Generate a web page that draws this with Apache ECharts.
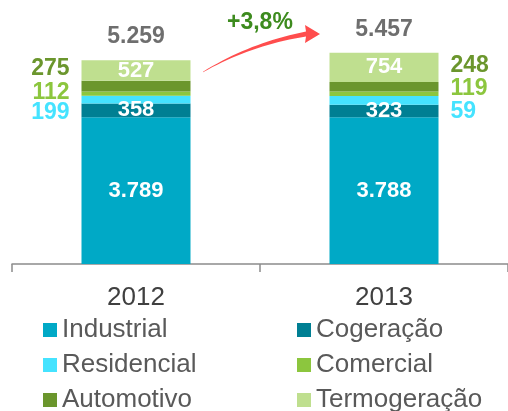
<!DOCTYPE html>
<html>
<head>
<meta charset="utf-8">
<script src="https://cdn.jsdelivr.net/npm/echarts@6/dist/echarts.min.js"></script>
<style>
  html, body { margin: 0; padding: 0; background: #fff; }
  #chart { width: 508px; height: 411px; }
</style>
</head>
<body>
<div id="chart"></div>
<script>
// anos
var anos = ['2012', '2013'];
// segmentos (de baixo para cima)
var industrial = [3789, 3788];
var cogeracao = [358, 323];
var residencial = [199, 225];        // altura desenhada
var residencialRotulos = ['199', '59']; // texto mostrado
var comercial = [112, 119];
var automotivo = [275, 248];
var termogeracao = [527, 754];
var totais = [5259, 5457];
// ordem da legenda (linha a linha, duas colunas)
var legendaOrdem = ['Industrial', 'Cogeração', 'Residencial', 'Comercial', 'Automotivo', 'Termogeração'];

var FONT = 'Liberation Sans, Arial, sans-serif';

function fmt(v) {
    return String(v).replace(/\B(?=(\d{3})+(?!\d))/g, '.');
}

var cores = {
    Industrial: '#00a9c6',
    'Cogeração': '#007f93',
    Residencial: '#45e3ff',
    Comercial: '#8cc63e',
    Automotivo: '#6b962d',
    'Termogeração': '#bfdf8f'
};

function serieDentro(nome, valores) {
    return {
        name: nome, type: 'bar', stack: 'total', barWidth: 109,
        itemStyle: { color: cores[nome] },
        data: valores,
        label: {
            show: true, position: 'inside', color: '#fff',
            fontFamily: FONT, fontWeight: 'bold', fontSize: 22,
            formatter: function (p) { return fmt(p.value); }
        }
    };
}

function serieFora(nome, valores, deslocY, textos) {
    return {
        name: nome, type: 'bar', stack: 'total', barWidth: 109,
        itemStyle: { color: cores[nome] },
        data: valores.map(function (v, i) {
            return {
                value: v,
                label: { position: i === 0 ? 'left' : 'right', offset: [0, deslocY[i]] }
            };
        }),
        label: {
            show: true, color: cores[nome], distance: 12,
            fontFamily: FONT, fontWeight: 'bold', fontSize: 23,
            formatter: function (p) { return textos ? textos[p.dataIndex] : fmt(p.value); }
        }
    };
}

var variacao = ((totais[1] / totais[0] - 1) * 100).toFixed(1).replace('.', ',');

// seta curva afinando na cauda
function seta() {
    var p0 = [203, 72], c = [250, 44], p1 = [306, 34];
    var cima = [], baixo = [];
    for (var i = 0; i <= 20; i++) {
        var t = i / 20;
        var x = (1 - t) * (1 - t) * p0[0] + 2 * t * (1 - t) * c[0] + t * t * p1[0];
        var y = (1 - t) * (1 - t) * p0[1] + 2 * t * (1 - t) * c[1] + t * t * p1[1];
        var w = 0.3 + 2.2 * t;
        cima.push([x, y - w]);
        baixo.unshift([x, y + w]);
    }
    return cima.concat([[305, 25], [320, 34], [305, 43]]).concat(baixo);
}

var chart = echarts.init(document.getElementById('chart'));
chart.setOption({
    animation: false,
    backgroundColor: '#fff',
    grid: { left: 12, right: -4, top: 31.7, bottom: 147 },
    xAxis: {
        type: 'category',
        data: anos,
        axisLine: { lineStyle: { color: '#8c8c8c', width: 1.5 } },
        axisTick: { show: true, length: 8, lineStyle: { color: '#8c8c8c', width: 1.5 } },
        axisLabel: { color: '#404040', fontFamily: FONT, fontSize: 26, margin: 21 }
    },
    yAxis: { type: 'value', min: 0, max: 6000, show: false },
    legend: {
        orient: 'horizontal', left: 43, top: 317, width: 500, padding: 0,
        itemWidth: 14, itemHeight: 14, itemGap: 9, icon: 'rect',
        textStyle: {
            color: '#595959', fontFamily: FONT, fontSize: 26,
            width: 226, lineHeight: 24, overflow: 'none'
        },
        data: legendaOrdem
    },
    series: [
        serieDentro('Industrial', industrial),
        serieDentro('Cogeração', cogeracao),
        serieFora('Residencial', residencial, [13, 11], residencialRotulos),
        serieFora('Comercial', comercial, [-1, -5]),
        serieFora('Automotivo', automotivo, [-17, -21]),
        serieDentro('Termogeração', termogeracao),
        {
            name: 'Total', type: 'scatter', symbolSize: 0,
            data: totais,
            label: {
                show: true, position: 'top', distance: 12,
                color: '#4a4a4a', fontFamily: FONT, fontWeight: 'bold', fontSize: 23,
                formatter: function (p) { return fmt(p.value); }
            }
        }
    ],
    graphic: [
        {
            type: 'polygon',
            shape: { points: seta() },
            style: { fill: '#ff4d4d' }
        },
        {
            type: 'text', left: 227, top: 11,
            style: {
                text: '+' + variacao + '%', fill: '#3d8b1e',
                font: 'bold 23px ' + FONT
            }
        }
    ]
});
</script>
</body>
</html>
